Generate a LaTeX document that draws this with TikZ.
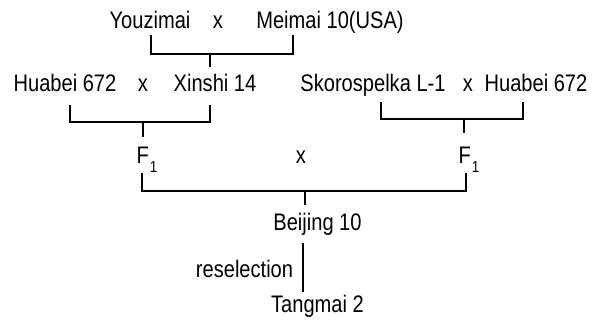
\documentclass[tikz,border=0pt]{standalone}
\usepackage{fontspec}
\setmainfont[FakeStretch=0.84]{Liberation Sans}
\begin{document}
\begin{tikzpicture}[x=1bp,y=-1bp,
  lbl/.style={anchor=base,inner sep=0pt,font=\fontsize{24}{28}\selectfont},
  ln/.style={line width=2.5bp}]
\useasboundingbox (0,0) rectangle (601,320);
\newcommand{\Fone}{F\kern1bp\raisebox{-9bp}{\fontsize{16}{16}\selectfont 1}}
% row 1
\node[lbl] (you) at (150,28) {Youzimai};
\node[lbl] (x1) at (218,28) {x};
\node[lbl] (mei) at (330,28) {Meimai 10(USA)};
% row 2
\node[lbl] (hb1) at (65,91) {Huabei 672};
\node[lbl] (x2) at (143,91) {x};
\node[lbl] (xin) at (215,91) {Xinshi 14};
\node[lbl] (sko) at (373,91) {Skorospelka L-1};
\node[lbl] (x3) at (468,91) {x};
\node[lbl] (hb2) at (536,91) {Huabei 672};
% row 3
\node[lbl] (f1a) at (147,163) {\Fone};
\node[lbl] (x4) at (301,163) {x};
\node[lbl] (f1b) at (469,163) {\Fone};
% lower
\node[lbl] (bj) at (317.5,230) {Beijing 10};
\node[lbl] (res) at (244.5,277) {reselection};
\node[lbl] (tm) at (317.5,312) {Tangmai 2};
% brackets
\coordinate (t1) at (151,35); \coordinate (t2) at (293,35);
\coordinate (t3) at (210,67);
\draw[ln] (t1) -- (151,54) -- (293,54) -- (t2);
\draw[ln] (210,54) -- (t3);
\coordinate (l1) at (70,105); \coordinate (l2) at (210,105);
\draw[ln] (l1) -- (70,122) -- (210,122) -- (l2);
\draw[ln] (143,122) -- (143,137);
\coordinate (r1) at (381,102); \coordinate (r2) at (523,102);
\draw[ln] (r1) -- (381,119) -- (523,119) -- (r2);
\draw[ln] (464,119) -- (464,133);
\coordinate (b1) at (142,173); \coordinate (b2) at (466,173);
\draw[ln] (b1) -- (142,191) -- (466,191) -- (b2);
\draw[ln] (305,191) -- (305,205);
\draw[ln] (303,243) -- (303,292);
\end{tikzpicture}
\end{document}
